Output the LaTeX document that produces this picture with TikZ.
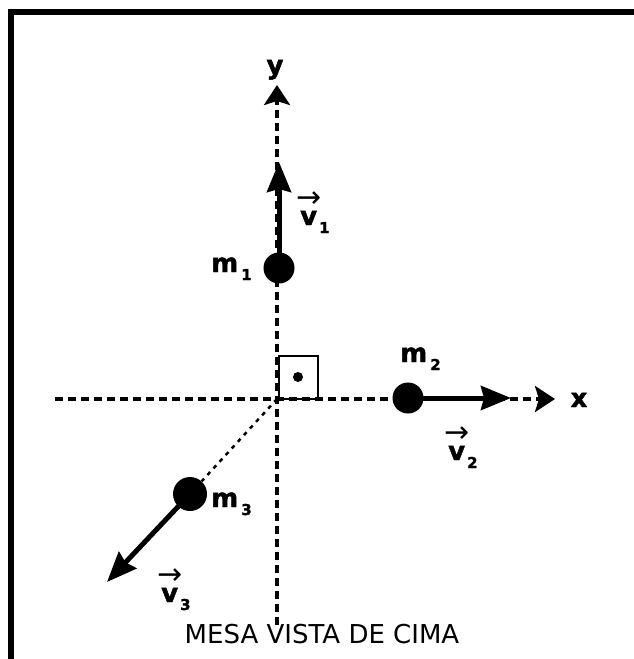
\documentclass[tikz,border=0pt]{standalone}
\usepackage{fontspec}
\setmainfont{DejaVu Sans}[BoldFeatures={FakeBold=1.6}]
\usetikzlibrary{arrows.meta}
\newsavebox{\vlabbox}
\newcommand{\mlab}[1]{{\bfseries m}\hspace{3pt}\raisebox{-8pt}{\fontsize{15}{15}\selectfont\bfseries #1}}
\newcommand{\vlab}[1]{\sbox{\vlabbox}{\bfseries v}\rlap{\makebox[\wd\vlabbox]{\raisebox{18pt}{\fontsize{30}{30}\mdseries\selectfont →}}}\usebox{\vlabbox}\hspace{2pt}\raisebox{-8pt}{\fontsize{15}{15}\selectfont\bfseries #1}}
\begin{document}
\begin{tikzpicture}[x=1pt,y=-1pt,
  axis/.style={line width=3.5pt, dash pattern=on 8pt off 5pt, -{Stealth[length=20pt,width=26pt,inset=4pt]}},
  vec/.style={line width=5pt, -{Stealth[length=30pt,width=24pt,inset=3pt]}},
  guide/.style={line width=2.5pt, dash pattern=on 4pt off 5pt},
  mass/.style={circle, fill=black, inner sep=0pt, minimum size=31pt},
  lab/.style={font=\fontsize{26}{26}\selectfont\bfseries, inner sep=0pt, anchor=base west},
  axlab/.style={font=\fontsize{26}{26}\selectfont\bfseries, inner sep=0pt, anchor=base},
]
\useasboundingbox (0,0) rectangle (634,659);
\draw[line width=6pt] (10.5,659) -- (10.5,11.5) -- (634,11.5);
% axes
\coordinate (O) at (277,399);
\coordinate (xL) at (55,399);
\coordinate (xR) at (555,399);
\coordinate (yB) at (277,625);
\coordinate (yT) at (277,85);
\draw[axis] (xL) -- (xR);
\draw[axis] (yB) -- (yT);
\node[axlab] (xlab) at (579,407) {x};
\node[axlab] (ylab) at (275,74) {y};
% right angle mark
\draw[line width=2pt] (279,399) rectangle (318,356);
\fill (298,377) circle (5pt);
% masses
\node[mass] (m1) at (279,268) {};
\node[mass] (m2) at (408,398) {};
\node[mass, minimum size=34pt] (m3) at (190,494) {};
\coordinate (t1) at (279,162);
\coordinate (t2) at (511,398);
\coordinate (t3) at (107,582);
\draw[guide] (O) -- (m3);
\draw[vec] (m1.center) -- (t1);
\draw[vec] (m2.center) -- (t2);
\draw[vec] (m3.center) -- (t3);
% labels
\node[lab] (lm1) at (211,272) {\mlab{1}};
\node[lab] (lm2) at (400,362) {\mlab{2}};
\node[lab] (lm3) at (211,507) {\mlab{3}};
\node[lab] (lv1) at (300,225) {\vlab{1}};
\node[lab] (lv2) at (448,460) {\vlab{2}};
\node[lab] (lv3) at (161,602) {\vlab{3}};
\node[font=\fontsize{26}{26}\selectfont, inner sep=0pt, anchor=base] (cap) at (322,643) {MESA VISTA DE CIMA};
\end{tikzpicture}
\end{document}
